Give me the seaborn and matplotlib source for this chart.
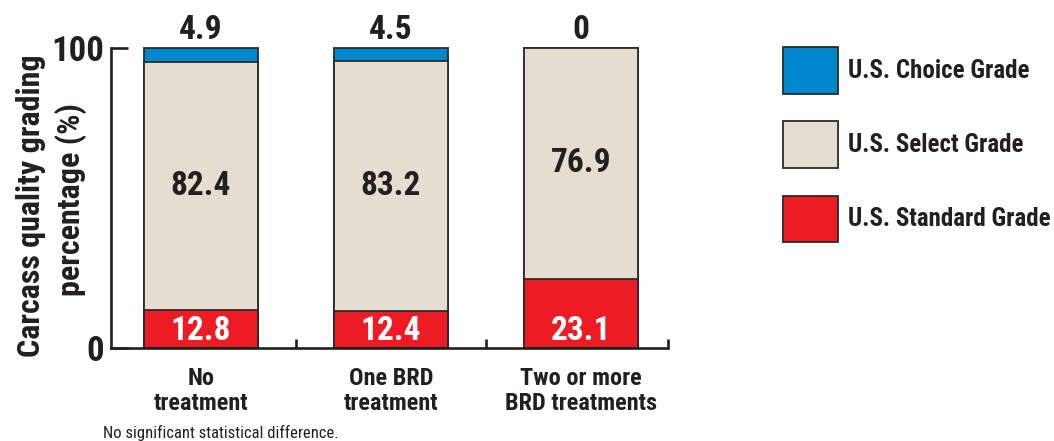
import matplotlib
matplotlib.use("Agg")
import matplotlib.pyplot as plt
from matplotlib import font_manager
import numpy as np
import pandas as pd
import seaborn as sns
from matplotlib.patches import Patch

categories = ["No\ntreatment", "One BRD\ntreatment", "Two or more\nBRD treatments"]
standard = [12.8, 12.4, 23.1]
select = [82.4, 83.2, 76.9]
choice = [4.9, 4.5, 0]
series_names = ["U.S. Choice Grade", "U.S. Select Grade", "U.S. Standard Grade"]
y_ticks = [0, 100]
ylabel_lines = ["Carcass quality grading", "percentage (%)"]
footnote = "No significant statistical difference."

sns.set_theme(style="white")
names = {f.name for f in font_manager.fontManager.ttflist}
fam = "DejaVu Sans"
for cand in ["Roboto Condensed", "Liberation Sans Narrow", "Arial Narrow", "Liberation Sans"]:
    if cand in names:
        fam = cand
        break
plt.rcParams["font.family"] = [fam, "DejaVu Sans"]

C_BLUE = "#0088CE"
C_BEIGE = "#E5DDCF"
C_RED = "#ED1C24"
EDGE = "#2b2b2b"
TXT = "#231F20"

fig = plt.figure(figsize=(10.54, 4.41), dpi=100)
ax = fig.add_axes([111 / 1054, 93 / 441, (668 - 111) / 1054, 300 / 441])

std = np.array(standard)
sel = np.array(select)
cho = np.array(choice)
df = pd.DataFrame({"cat": categories,
                   "top": std + sel + cho,
                   "mid": std + sel,
                   "low": std})

for col, colr in [("top", C_BLUE), ("mid", C_BEIGE), ("low", C_RED)]:
    sns.barplot(data=df, x="cat", y=col, color=colr, width=0.6, ax=ax,
                edgecolor=EDGE, linewidth=1.3, saturation=1, order=categories)
for p in ax.patches:
    p.set_clip_on(False)

ax.set_xlim(-0.474, 2.458)
ax.set_ylim(0, 100)
ax.set_xlabel("")
ax.set_ylabel("")

for sp in ["top", "right"]:
    ax.spines[sp].set_visible(False)
for sp in ["left", "bottom"]:
    ax.spines[sp].set_linewidth(1.9)
    ax.spines[sp].set_color(TXT)

ax.set_yticks(y_ticks)
ax.set_yticklabels([str(v) for v in y_ticks], fontsize=25, fontweight="bold", color=TXT)
ax.tick_params(axis="y", direction="in", length=12, width=1.9, pad=5, colors=TXT, left=True)

ax.set_xticks(range(len(categories)))
ax.set_xticklabels(categories, fontsize=17.5, fontweight="bold", color=TXT, linespacing=1.1)
ax.tick_params(axis="x", which="major", length=0, pad=14)
ax.set_xticks([0.5, 1.5, 2.458], minor=True)
ax.tick_params(axis="x", which="minor", direction="in", length=6.5, width=1.9, colors=TXT, bottom=True)

for i in range(len(categories)):
    ax.text(i, std[i] + sel[i] + cho[i] + 6.0, f"{choice[i]:g}", ha="center", va="center",
            fontsize=24, fontweight="bold", color=TXT, clip_on=False)
    ax.text(i, std[i] + sel[i] / 2, f"{select[i]:g}", ha="center", va="center",
            fontsize=24, fontweight="bold", color=TXT)
    ax.text(i, 5.8, f"{standard[i]:g}", ha="center", va="center",
            fontsize=24, fontweight="bold", color="white")

# y-axis title, two lines, each centred where the reference puts it
fig.text(31 / 1054, 1 - 206 / 441, ylabel_lines[0], rotation=90, ha="center", va="center",
         fontsize=23, fontweight="bold", color=TXT)
fig.text(71 / 1054, 1 - 200 / 441, ylabel_lines[1], rotation=90, ha="center", va="center",
         fontsize=23, fontweight="bold", color=TXT)

fig.text(103 / 1054, 1 - 433 / 441, footnote, ha="left", va="center", fontsize=12, color=TXT)

handles = [Patch(facecolor=c, edgecolor=EDGE, linewidth=1.3) for c in [C_BLUE, C_BEIGE, C_RED]]
leg = fig.legend(handles, series_names, loc="upper left", bbox_to_anchor=(783 / 1054, 1 - 47 / 441),
                 frameon=False, prop={"weight": "bold", "size": 18},
                 handlelength=2.2, handleheight=2.5, labelspacing=1.1,
                 handletextpad=0.4, borderpad=0, borderaxespad=0)
for t in leg.get_texts():
    t.set_color(TXT)

fig.savefig("out.png", dpi=100)
